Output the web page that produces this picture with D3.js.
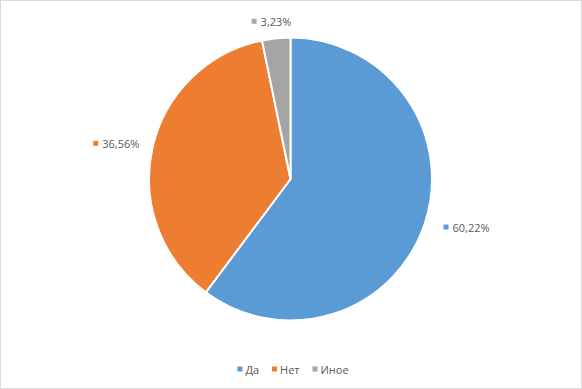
<!DOCTYPE html>
<html lang="ru">
<head>
  <meta charset="UTF-8">
  <title>Pie</title>
  <script src="https://cdn.jsdelivr.net/npm/d3@7"></script>
  <style>
    body { margin: 0; background: #fff; font-family: "Open Sans", "Noto Sans", sans-serif; }
    .lbl { font-size: 11px; fill: #595959; }
  </style>
</head>
<body>
  <div id="chart"></div>
  <script>
    const categories = ["Да", "Нет", "Иное"];
    const values = [60.22, 36.56, 3.23];
    const labels = ["60,22%", "36,56%", "3,23%"];
    const colors = ["#5B9BD5", "#ED7D31", "#A5A5A5"];

    const W = 582, H = 389;
    const cx = 290.5, cy = 179, R = 141.5;

    const svg = d3.select("#chart").append("svg")
      .attr("width", W).attr("height", H);

    // outer frame
    svg.append("rect")
      .attr("x", 0.5).attr("y", 0.5)
      .attr("width", W - 1).attr("height", H - 1)
      .attr("fill", "#fff").attr("stroke", "#d9d9d9");

    const pie = d3.pie().sort(null).value(d => d)(values);
    const arc = d3.arc().innerRadius(0).outerRadius(R);

    const g = svg.append("g").attr("transform", `translate(${cx},${cy})`);

    g.selectAll("path")
      .data(pie)
      .join("path")
      .attr("d", arc)
      .attr("fill", (d, i) => colors[i])
      .attr("stroke", "#fff")
      .attr("stroke-width", 2)
      .attr("stroke-linejoin", "round");

    // data labels, outside end
    const lr = 157;
    const lab = g.selectAll("g.dl")
      .data(pie)
      .join("g")
      .attr("class", "dl")
      .attr("transform", d => {
        const a = (d.startAngle + d.endAngle) / 2;
        const x = lr * Math.sin(a), y = -lr * Math.cos(a);
        const s = Math.sin(a);
        let w = 46 + (labels[d.index].length - 6) * 6;
        let off = Math.abs(s) < 0.3 ? -w / 2 - 3 : (s > 0 ? 4 : -w + 2);
        return `translate(${x + off},${y - 4})`;
      });

    lab.append("rect")
      .attr("x", 0).attr("y", 0)
      .attr("width", 5).attr("height", 5)
      .attr("fill", (d, i) => colors[i]);
    lab.append("text")
      .attr("class", "lbl")
      .attr("x", 9).attr("y", 2.5)
      .attr("dominant-baseline", "central")
      .text((d, i) => labels[i]);

    // legend
    const legend = svg.append("g").attr("transform", "translate(0,369)");
    const items = legend.selectAll("g")
      .data(categories)
      .join("g");
    items.append("rect")
      .attr("y", -2.5).attr("width", 5).attr("height", 5)
      .attr("fill", (d, i) => colors[i]);
    items.append("text")
      .attr("class", "lbl")
      .attr("x", 8).attr("y", 0)
      .attr("dominant-baseline", "central")
      .text(d => d);
    let xpos = 0;
    items.each(function () {
      d3.select(this).attr("transform", `translate(${xpos},0)`);
      xpos += this.getBBox().width + 13;
    });
    const total = xpos - 13;
    legend.attr("transform", `translate(${(W - total) / 2 + 2},369)`);
  </script>
</body>
</html>
